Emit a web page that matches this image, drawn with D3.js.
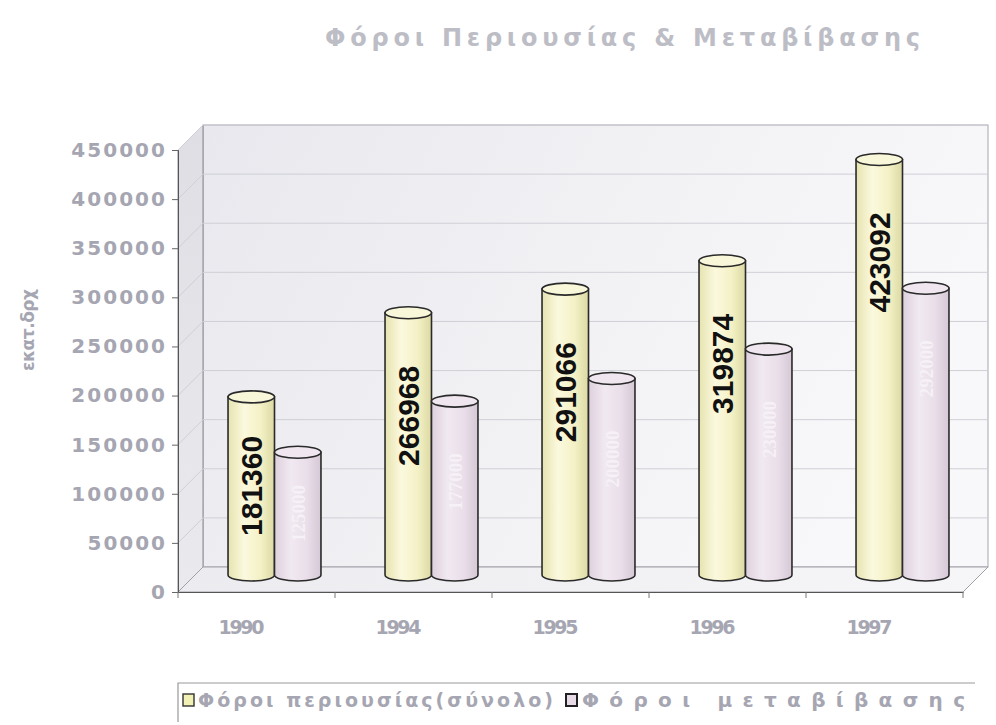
<!DOCTYPE html>
<html>
<head>
<meta charset="utf-8">
<script src="https://cdn.jsdelivr.net/npm/d3@7"></script>
<style>
  html, body { margin: 0; padding: 0; background: #ffffff; }
  svg { display: block; }
</style>
</head>
<body>
<div id="chart"></div>
<script>
// ---- data ----
const categories = ["1990", "1994", "1995", "1996", "1997"];
const seriesNames = ["Φόροι περιουσίας(σύνολο)", "Φόροι μεταβίβασης"];
const propertyTax = [181360, 266968, 291066, 319874, 423092];
const transferTax = [125000, 177000, 200000, 230000, 292000];   // estimated (labels illegible)
const yTicks = [0, 50000, 100000, 150000, 200000, 250000, 300000, 350000, 400000, 450000];
const titleText = "Φόροι Περιουσίας & Μεταβίβασης";
const yLabel = "εκατ.δρχ";

const W = 996, H = 725;
const svg = d3.select("#chart").append("svg").attr("width", W).attr("height", H);
const defs = svg.append("defs");

const x0 = 178, x1 = 963, yBottom = 592, yTop = 150;
const depth = { dx: 25, dy: -25 };
const barShift = { dx: 18, dy: -17 };

const x = d3.scaleBand().domain(categories).range([x0, x1]).paddingInner(0.408).paddingOuter(0.204);
const xs = d3.scaleBand().domain([0, 1]).range([0, x.bandwidth()]);
const y = d3.scaleLinear().domain([0, 450000]).range([yBottom, yTop]);

function linGrad(id, stops, x2, y2) {
  const g = defs.append("linearGradient").attr("id", id)
    .attr("x1", "0").attr("y1", "0").attr("x2", x2).attr("y2", y2);
  stops.forEach(s => g.append("stop").attr("offset", s[0]).attr("stop-color", s[1]));
}
linGrad("wall", [[0, "#e8e8ee"], [0.5, "#f1f1f4"], [1, "#f8f8fa"]], "1", "0.3");
linGrad("leftwall", [[0, "#dedee4"], [1, "#eaeaee"]], "0", "1");
linGrad("floor", [[0, "#ececf0"], [1, "#f6f6f8"]], "1", "0");
linGrad("cylY", [[0, "#e6e3b0"], [0.35, "#fbf9de"], [0.7, "#f4f1c6"], [1, "#dcd9a4"]], "1", "0");
linGrad("cylP", [[0, "#ddd0dd"], [0.35, "#f1e9f1"], [0.7, "#e9dee9"], [1, "#d6c8d6"]], "1", "0");

const bx0 = x0 + depth.dx, bx1 = x1 + depth.dx;
svg.append("rect").attr("x", bx0).attr("y", y(450000) + depth.dy)
  .attr("width", bx1 - bx0).attr("height", y(0) - y(450000))
  .attr("fill", "url(#wall)").attr("stroke", "#a4a4ae").attr("stroke-width", 1);
svg.append("path")
  .attr("d", `M${x0},${y(0)} L${x0},${y(450000)} L${bx0},${y(450000) + depth.dy} L${bx0},${y(0) + depth.dy} Z`)
  .attr("fill", "url(#leftwall)").attr("stroke", "#8a8a94").attr("stroke-width", 1);
svg.append("path")
  .attr("d", `M${x0},${y(0)} L${x1},${y(0)} L${bx1},${y(0) + depth.dy} L${bx0},${y(0) + depth.dy} Z`)
  .attr("fill", "url(#floor)").attr("stroke", "#a0a0a8").attr("stroke-width", 1);

const grid = svg.append("g");
yTicks.filter(t => t > 0).forEach(t => {
  grid.append("line").attr("x1", bx0).attr("x2", bx1)
    .attr("y1", y(t) + depth.dy).attr("y2", y(t) + depth.dy)
    .attr("stroke", "#cfcfd6").attr("stroke-width", 1);
  grid.append("line").attr("x1", x0).attr("x2", bx0)
    .attr("y1", y(t)).attr("y2", y(t) + depth.dy)
    .attr("stroke", "#cfcfd6").attr("stroke-width", 1);
});

const fontAxis = "'DejaVu Sans', Verdana, sans-serif";
const textCol = "#a6a6b2";
const yAxis = svg.append("g").attr("transform", `translate(${x0},0)`)
  .call(d3.axisLeft(y).tickValues(yTicks).tickSize(6).tickPadding(7).tickFormat(d3.format("d")));
yAxis.select(".domain").attr("stroke", "#555");
yAxis.selectAll(".tick line").attr("stroke", "#666");
yAxis.selectAll("text")
  .attr("font-family", fontAxis).attr("font-weight", "bold").attr("font-size", 20)
  .attr("fill", textCol)
  .attr("textLength", function() { return this.textContent.length * 16.3 - 4; })
  .attr("lengthAdjust", "spacing");

const xAxis = svg.append("g").attr("transform", `translate(0,${yBottom})`)
  .call(d3.axisBottom(x).tickSize(0).tickPadding(0));
xAxis.select(".domain").attr("stroke", "#555");
xAxis.selectAll("text")
  .attr("font-family", fontAxis).attr("font-weight", "bold").attr("font-size", 19)
  .attr("fill", textCol)
  .attr("dx", -15).attr("dy", 42)
  .attr("textLength", 46).attr("lengthAdjust", "spacing");
const bounds = categories.map(c => x(c) - x.step() * x.paddingInner() / 2);
bounds.push(x1);
bounds[0] = x0;
bounds.forEach(b => {
  svg.append("line").attr("x1", b).attr("x2", b).attr("y1", yBottom).attr("y2", yBottom + 6)
    .attr("stroke", "#777");
});

const series = [
  { vals: propertyTax, fill: "url(#cylY)", top: "#f9f7da", label: "#111", labFont: "'Liberation Sans', Arial, sans-serif", labSize: 30, labW: "bold", off: 53 },
  { vals: transferTax, fill: "url(#cylP)", top: "#efe6ef", label: "#f6f1f6", labFont: "'Liberation Serif', serif", labSize: 19, labW: "bold", off: 52 }
];
const ry = 6;
const bars = svg.append("g");
categories.forEach((c, i) => {
  series.forEach((s, k) => {
    const v = s.vals[i];
    const left = x(c) + xs(k) + barShift.dx;
    const w = xs.bandwidth();
    const right = left + w;
    const rx = w / 2;
    const top = y(v) + barShift.dy;
    const base = y(0) + barShift.dy;
    const g = bars.append("g");
    g.append("path")
      .attr("d", `M${left},${top} L${left},${base} A${rx},${ry} 0 0 0 ${right},${base} L${right},${top} Z`)
      .attr("fill", s.fill).attr("stroke", "#2a2a2a").attr("stroke-width", 1.6);
    g.append("ellipse").attr("cx", left + rx).attr("cy", top).attr("rx", rx).attr("ry", ry)
      .attr("fill", s.top).attr("stroke", "#2a2a2a").attr("stroke-width", 1.6);
    const t = g.append("text")
      .attr("font-family", s.labFont).attr("font-weight", s.labW).attr("font-size", s.labSize)
      .attr("fill", s.label).attr("text-anchor", "middle")
      .text(d3.format("d")(v));
    const len = t.node().getComputedTextLength();
    const mid = (top + base) / 2;
    const cy = Math.min(top + s.off + len / 2, mid);
    const cx = left + rx;
    t.attr("transform", `translate(${cx + s.labSize * 0.36},${cy}) rotate(-90)`);
  });
});

svg.append("text").attr("x", 325).attr("y", 46)
  .attr("font-family", fontAxis).attr("font-weight", "bold").attr("font-size", 24)
  .attr("fill", "#bdbdc6").attr("textLength", 595).attr("lengthAdjust", "spacing")
  .text(titleText);

svg.append("text").attr("transform", "translate(34,330) rotate(-90)")
  .attr("text-anchor", "middle")
  .attr("font-family", fontAxis).attr("font-weight", "bold").attr("font-size", 17)
  .attr("fill", textCol).attr("textLength", 82).attr("lengthAdjust", "spacing")
  .text(yLabel);

const lg = svg.append("g");
lg.append("path").attr("d", "M178,722 L178,683 L975,683")
  .attr("fill", "none").attr("stroke", "#999").attr("stroke-width", 1.2);
lg.append("rect").attr("x", 183).attr("y", 694).attr("width", 11).attr("height", 12)
  .attr("fill", "#f2f0b4").attr("stroke", "#333").attr("stroke-width", 1.4);
lg.append("text").attr("x", 198).attr("y", 707)
  .attr("font-family", fontAxis).attr("font-weight", "bold").attr("font-size", 19)
  .attr("fill", textCol).attr("textLength", 355).attr("lengthAdjust", "spacing")
  .text(seriesNames[0]);
lg.append("rect").attr("x", 566).attr("y", 694).attr("width", 11).attr("height", 12)
  .attr("fill", "#e6dbe6").attr("stroke", "#222").attr("stroke-width", 2);
lg.append("text").attr("x", 582).attr("y", 707)
  .attr("font-family", fontAxis).attr("font-weight", "bold").attr("font-size", 20)
  .attr("fill", textCol).attr("textLength", 383).attr("lengthAdjust", "spacing")
  .text(seriesNames[1]);
</script>
</body>
</html>
